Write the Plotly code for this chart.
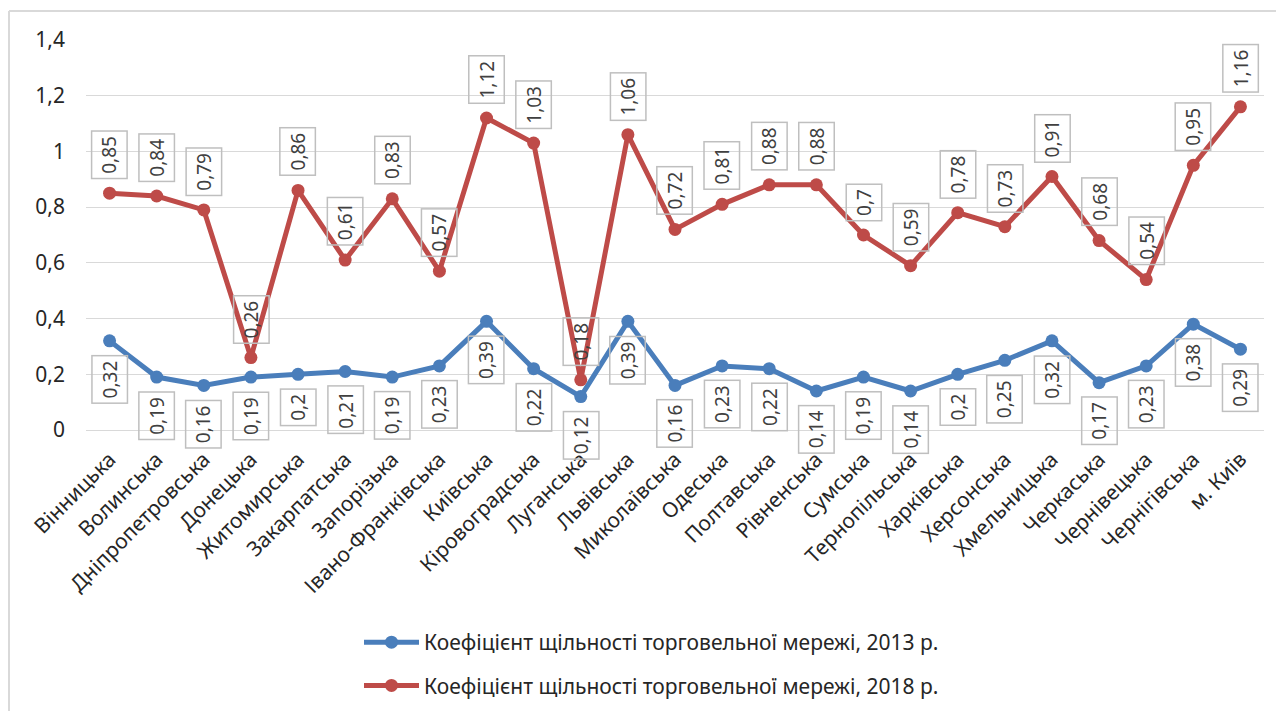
import plotly.graph_objects as go

categories = ["Вінницька", "Волинська", "Дніпропетровська", "Донецька", "Житомирська",
              "Закарпатська", "Запорізька", "Івано-Франківська", "Київська", "Кіровоградська",
              "Луганська", "Львівська", "Миколаївська", "Одеська", "Полтавська", "Рівненська",
              "Сумська", "Тернопільська", "Харківська", "Херсонська", "Хмельницька",
              "Черкаська", "Чернівецька", "Чернігівська", "м. Київ"]
values_2013 = [0.32, 0.19, 0.16, 0.19, 0.2, 0.21, 0.19, 0.23, 0.39, 0.22, 0.12, 0.39, 0.16,
               0.23, 0.22, 0.14, 0.19, 0.14, 0.2, 0.25, 0.32, 0.17, 0.23, 0.38, 0.29]
values_2018 = [0.85, 0.84, 0.79, 0.26, 0.86, 0.61, 0.83, 0.57, 1.12, 1.03, 0.18, 1.06, 0.72,
               0.81, 0.88, 0.88, 0.7, 0.59, 0.78, 0.73, 0.91, 0.68, 0.54, 0.95, 1.16]
name_2013 = "Коефіцієнт щільності торговельної мережі, 2013 р."
name_2018 = "Коефіцієнт щільності торговельної мережі, 2018 р."
y_tickvals = [0, 0.2, 0.4, 0.6, 0.8, 1.0, 1.2, 1.4]
y_ticktext = ["0", "0,2", "0,4", "0,6", "0,8", "1", "1,2", "1,4"]

BLUE = "#4A7EBB"
RED = "#BE4B48"
FONT = "Noto Sans"

# page has an 8px body margin; plot area wanted at page x 86..1264, y 40..430
ML, MT, PW, PH = 78, 32, 1178, 390
FW, FH = 1276, 703

def fmt(v):
    return ("%g" % v).replace(".", ",")

def px(x_page):
    return (x_page - 8 - ML) / PW

def py(y_page):
    return (MT + PH - (y_page - 8)) / PH

fig = go.Figure()
fig.add_trace(go.Scatter(x=categories, y=values_2013, name=name_2013, mode="lines+markers",
                         line=dict(color=BLUE, width=5), marker=dict(size=13, color=BLUE),
                         legendgroup="a", cliponaxis=False))
fig.add_trace(go.Scatter(x=categories, y=values_2018, name=name_2018, mode="lines+markers",
                         line=dict(color=RED, width=5), marker=dict(size=13, color=RED),
                         legendgroup="b", cliponaxis=False))

annotations = []
for c, v in zip(categories, values_2018):
    annotations.append(dict(x=c, y=v, xref="x", yref="y", text=fmt(v), showarrow=False,
                            textangle=-90, yanchor="bottom", yshift=14,
                            font=dict(family=FONT, size=19, color="#404040"),
                            bordercolor="#BFBFBF", borderwidth=1.5, borderpad=4))
for c, v in zip(categories, values_2013):
    annotations.append(dict(x=c, y=v, xref="x", yref="y", text=fmt(v), showarrow=False,
                            textangle=-90, yanchor="top", yshift=-14,
                            font=dict(family=FONT, size=19, color="#404040"),
                            bordercolor="#BFBFBF", borderwidth=1.5, borderpad=4))

fig.update_layout(
    width=FW, height=FH,
    margin=dict(l=ML, r=FW - ML - PW, t=MT, b=FH - MT - PH, autoexpand=False),
    paper_bgcolor="white", plot_bgcolor="white",
    font=dict(family=FONT, color="#262626"),
    annotations=annotations,
    showlegend=True,
    legend=dict(orientation="v", x=px(359), xanchor="left", y=py(622), yanchor="top",
                font=dict(family=FONT, size=21, color="#262626"), tracegroupgap=13,
                itemwidth=55),
    shapes=[
        dict(type="line", xref="paper", yref="paper", x0=px(9), x1=px(9), y0=py(720), y1=py(11),
             line=dict(color="#D9D9D9", width=2), layer="below"),
        dict(type="line", xref="paper", yref="paper", x0=px(9), x1=px(1300), y0=py(11), y1=py(11),
             line=dict(color="#D9D9D9", width=2), layer="below"),
    ],
)
fig.update_xaxes(type="category", range=[-0.5, len(categories) - 0.5], tickangle=-45,
                 showgrid=False, showline=False, automargin=False, ticklabelstandoff=12,
                 tickfont=dict(family=FONT, size=21, color="#262626"), ticks="")
fig.update_yaxes(range=[0, 1.4], tickvals=y_tickvals, ticktext=y_ticktext,
                 automargin=False,
                 showgrid=True, gridcolor="#D9D9D9", gridwidth=1, zeroline=True,
                 zerolinecolor="#D9D9D9", zerolinewidth=1, showline=False,
                 tickfont=dict(family=FONT, size=21, color="#262626"), ticklabelstandoff=20)

fig.write_html("out.html")
